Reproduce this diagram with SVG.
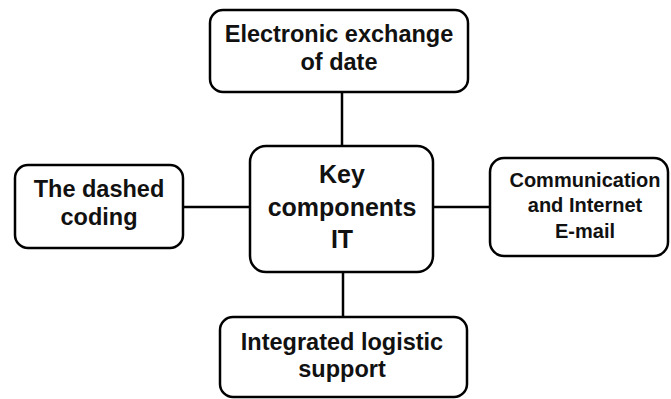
<svg xmlns="http://www.w3.org/2000/svg" width="671" height="399" viewBox="0 0 671 399">
<style>
.box{fill:#fff;stroke:#000;stroke-width:2.5}
.ln{stroke:#000;stroke-width:2.5;fill:none}
text{font-family:"Liberation Sans",Arial,sans-serif;font-weight:bold;text-anchor:middle;fill:#111}
.t1{font-size:23.5px}
.t2{font-size:25px}
.t3{font-size:20px}
</style>
<rect width="671" height="399" fill="#fff"/>
<g id="connectors">
<line class="ln" x1="342" y1="92" x2="342" y2="146"/>
<line class="ln" x1="183" y1="207" x2="250" y2="207"/>
<line class="ln" x1="433" y1="207" x2="490" y2="207"/>
<line class="ln" x1="343" y1="272" x2="343" y2="317"/>
</g>
<g id="top">
<rect class="box" x="210" y="10" width="258" height="82" rx="13"/>
<text class="t1" x="339" y="42">Electronic exchange</text>
<text class="t1" x="339" y="70">of date</text>
</g>
<g id="left">
<rect class="box" x="15" y="165" width="168" height="83" rx="13"/>
<text class="t1" x="99" y="197">The dashed</text>
<text class="t1" x="99" y="225">coding</text>
</g>
<g id="center">
<rect class="box" x="250" y="146" width="183" height="126" rx="16"/>
<text class="t2" x="342" y="183">Key</text>
<text class="t2" x="342" y="216">components</text>
<text class="t2" x="342" y="248">IT</text>
</g>
<g id="right">
<rect class="box" x="490" y="158" width="178" height="98" rx="14"/>
<text class="t3" x="585" y="187">Communication</text>
<text class="t3" x="585" y="212">and Internet</text>
<text class="t3" x="585" y="238">E-mail</text>
</g>
<g id="bottom">
<rect class="box" x="220" y="317" width="247" height="80" rx="13"/>
<text class="t1" x="342" y="350">Integrated logistic</text>
<text class="t1" x="342" y="377">support</text>
</g>
</svg>
